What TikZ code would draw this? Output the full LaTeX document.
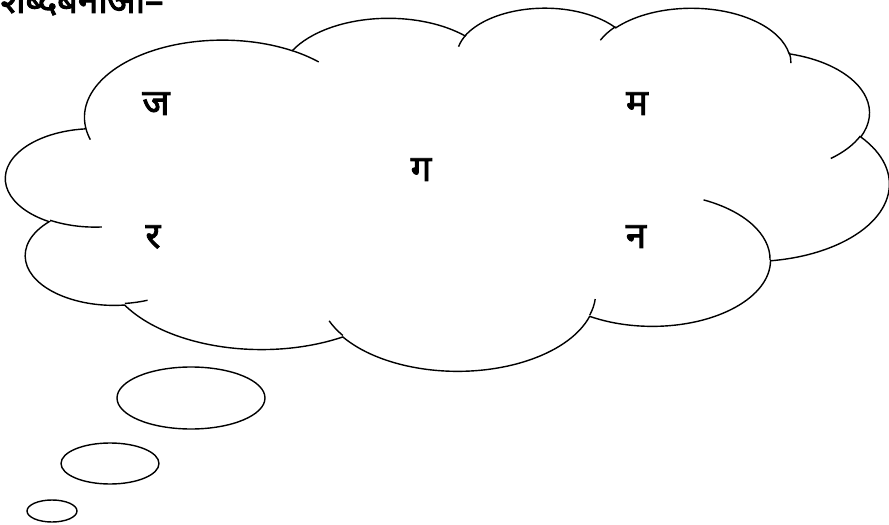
\documentclass[tikz,border=0pt]{standalone}
\usepackage{fontspec}
\newfontfamily\devfont[Script=Devanagari, FakeBold=2.5]{Noto Sans}
% elliptic arc, angles as seen on the ellipse
\newcommand\cloudarc[4]{arc[x radius=#1, y radius=#2,
  start angle={atan2((#1)*sin(#3),(#2)*cos(#3))},
  delta angle={mod(atan2((#1)*sin((#3)+(#4)),(#2)*cos((#3)+(#4)))-atan2((#1)*sin(#3),(#2)*cos(#3))+720,360)}]}

\begin{document}
\begin{tikzpicture}[x=0.025cm, y=-0.025cm, line width=1pt,
  letter/.style={font=\devfont\fontsize{26}{30}\selectfont, inner sep=0pt, anchor=base}]
  \useasboundingbox (0,0) rectangle (889,525);
  \clip (0,0) rectangle (889,525);

  \node[letter, anchor=base west] (title) at (0,13) {शब्दबनाओ–};

  \begin{scope}[shift={(6,7)}, xscale=2.04398, yscale=0.84028]
    \draw[fill=white] (39.00,143.70)
      \cloudarc{67.53}{91.90}{-190.48748}{123.78053}
      \cloudarc{53.33}{72.67}{-144.10238}{89.94523}
      \cloudarc{43.65}{59.45}{-145.80792}{99.72302}
      \cloudarc{48.57}{65.95}{-130.98607}{117.24173}
      \cloudarc{53.33}{72.73}{-78.70888}{109.02692}
      \cloudarc{67.75}{92.20}{-46.26725}{130.269}
      \cloudarc{57.85}{78.67}{0.62502}{114.03333}
      \cloudarc{67.52}{92.15}{22.4516}{115.17255}
      \cloudarc{77.20}{105.43}{66.24263}{75.71102}
      \cloudarc{43.60}{59.18}{-274.94208}{146.73557}
      \cloudarc{43.45}{59.45}{-246.8285}{152.51885} -- cycle;

    \draw (46.93,261.77) \cloudarc{43.45}{59.45}{86.742}{26.4295};
    \draw (69.28,348.99) \cloudarc{43.60}{59.18}{73.61047}{11.44747};
    \draw (164.78,390.90) \cloudarc{67.52}{92.15}{137.62415}{14.0811};
    \draw (288.27,347.51) \cloudarc{67.52}{92.15}{6.45327}{15.99835};
    \draw (341.29,229.54) \cloudarc{57.85}{78.67}{-70.29235}{70.91737};
    \draw (417.98,153.54) \cloudarc{53.33}{72.73}{30.31803}{27.7515};
    \draw (383.24,54.26) \cloudarc{48.57}{65.95}{-13.74433}{14.8589};
    \draw (290.78,39.52) \cloudarc{48.57}{65.95}{-149.18145}{18.19537};
    \draw (221.41,47.20) \cloudarc{43.65}{59.45}{-163.49427}{17.68635};
    \draw (140.00,51.92) \cloudarc{67.53}{91.90}{-66.70695}{12.31935};
    \draw (41.27,157.89) \cloudarc{67.53}{91.90}{157.65435}{11.85817};
  \end{scope}

  \node[letter] (ja) at (156,115) {ज};
  \node[letter] (ma) at (637,115) {म};
  \node[letter] (ga) at (421,181) {ग};
  \node[letter] (ra) at (153,248) {र};
  \node[letter] (na) at (636,248) {न};

  \draw (191,398) ellipse [x radius=74, y radius=31];
  \draw (110,463.5) ellipse [x radius=49, y radius=20.5];
  \draw (52,511) ellipse [x radius=25, y radius=11];
\end{tikzpicture}
\end{document}
